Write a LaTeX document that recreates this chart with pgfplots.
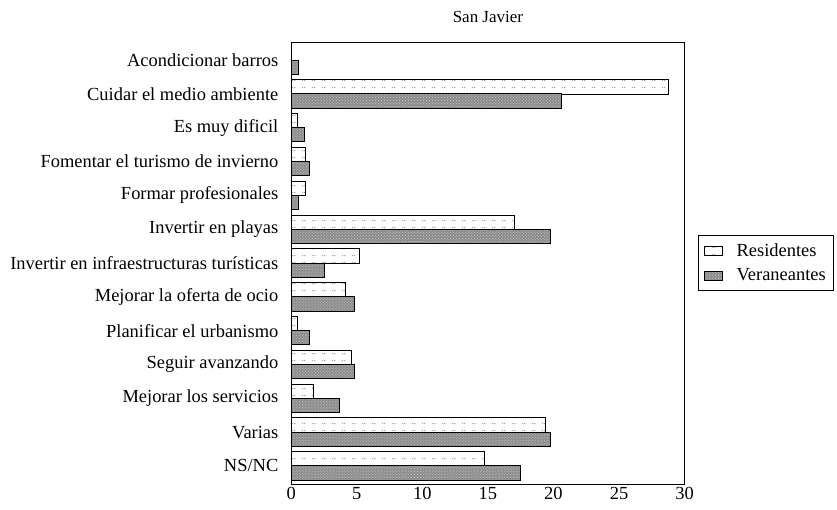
\documentclass[border=0pt]{standalone}
\usepackage{pgfplots}
\pgfplotsset{compat=1.18}
\usepackage{fontspec}
\setmainfont{Liberation Serif}
\usetikzlibrary{patterns}

% faint paired dots, as on the white bars
\pgfdeclarepatternformonly{pairdots}{\pgfpointorigin}{\pgfqpoint{10bp}{7bp}}{\pgfqpoint{10bp}{7bp}}{
  \pgfpathrectangle{\pgfqpoint{2bp}{2bp}}{\pgfqpoint{1.3bp}{1.3bp}}
  \pgfpathrectangle{\pgfqpoint{4.5bp}{2bp}}{\pgfqpoint{1.3bp}{1.3bp}}
  \pgfusepath{fill}}

\pgfplotstableread{
y res ver
0 0 0.6
1 28.8 20.6
2 0.45 1.0
3 1.07 1.38
4 1.07 0.6
5 17.0 19.8
6 5.2 2.56
7 4.1 4.8
8 0.5 1.4
9 4.6 4.8
10 1.7 3.7
11 19.4 19.8
12 14.7 17.5
}\datatable

\begin{document}
\begin{tikzpicture}
\begin{axis}[
    xbar, scale only axis,
    width=393bp, height=441bp,
    xmin=0, xmax=30,
    ymin=-0.53, ymax=12.53,
    y dir=reverse,
    ytick={0,...,12},
    yticklabels={Acondicionar barros, Cuidar el medio ambiente, Es muy dificil,
      Fomentar el turismo de invierno, Formar profesionales, Invertir en playas,
      Invertir en infraestructuras turísticas, Mejorar la oferta de ocio,
      Planificar el urbanismo, Seguir avanzando, Mejorar los servicios, Varias, NS/NC},
    xtick={0,5,...,30},
    tick style={draw=none},
    bar width=0.42,
    tick label style={font=\fontsize{18.5}{21}\selectfont},
    yticklabel style={xshift=-5bp},
    title={\fontsize{17}{20}\selectfont San Javier},
    title style={yshift=10bp},
    /pgf/number format/assume math mode=true,
    legend style={at={(1.035,0.5)}, anchor=west, draw=black, row sep=7bp,
      inner xsep=5bp, inner ysep=6bp, font=\fontsize{18.5}{21}\selectfont,
      /tikz/every odd column/.append style={column sep=12bp}},
    legend cell align=left,
    legend image code/.code={\draw[#1] (0bp,-4.5bp) rectangle (18bp,4.5bp);},
  ]
  \addplot[bar shift=-0.21, fill=white, draw=black, line width=0.8pt,
      postaction={pattern=pairdots, pattern color=black!35}]
    table[x=res, y=y] {\datatable};
  \addplot[bar shift=0.21, fill=black!45, draw=black, line width=1pt,
      postaction={pattern=crosshatch dots, pattern color=white!80!black}]
    table[x=ver, y=y] {\datatable};
  \legend{Residentes, Veraneantes}
\end{axis}
\path ([shift={(4bp,8bp)}]current bounding box.north east);
\path ([shift={(-7bp,-6bp)}]current bounding box.south west);
\end{tikzpicture}
\end{document}
